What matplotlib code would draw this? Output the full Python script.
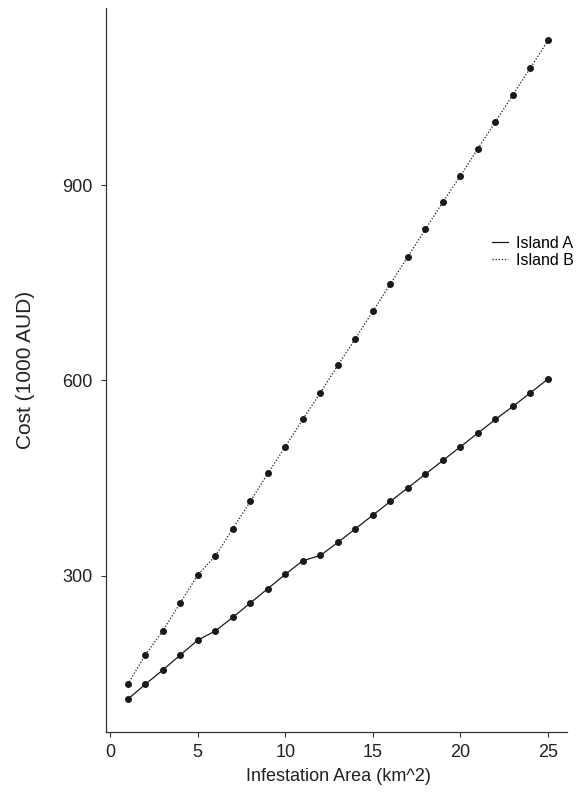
import matplotlib
matplotlib.use("Agg")
import matplotlib.pyplot as plt

plt.rcParams['font.family'] = ['Liberation Sans', 'DejaVu Sans']

# Infestation area (km^2)
area = list(range(1, 26))

# Cost (1000 AUD)
island_a = [110, 133, 155, 178, 201, 215, 236, 258, 280, 302,
            323, 331, 351, 372, 393, 414, 435, 456, 477, 498,
            519, 540, 560, 581, 602]
island_b = [133, 178, 215, 258, 301, 330, 372, 414, 457, 498,
            540, 581, 623, 664, 706, 748, 790, 832, 874, 914,
            956, 997, 1039, 1080, 1122]

x_ticks = [0, 5, 10, 15, 20, 25]
y_ticks = [300, 600, 900]

fig = plt.figure(figsize=(5.83, 7.93), dpi=100)
ax = fig.add_axes([0.182, 0.077, 0.791, 0.913])

ax.plot(area, island_a, color='#1a1a1a', linestyle='-', linewidth=0.9,
        marker='o', markersize=4, label='Island A')
ax.plot(area, island_b, color='#1a1a1a', linestyle=(0, (1, 1.5)), linewidth=0.9,
        marker='o', markersize=4, label='Island B')

ax.set_xlim(-0.23, 26.1)
ax.set_ylim(60, 1172)
ax.set_xticks(x_ticks)
ax.set_yticks(y_ticks)
ax.tick_params(labelsize=13, length=3.5, width=0.8, color='#333333', labelcolor='#222222')
ax.tick_params(axis='y', pad=6)
ax.tick_params(axis='x', pad=5)

for side in ['top', 'right']:
    ax.spines[side].set_visible(False)
for side in ['left', 'bottom']:
    ax.spines[side].set_color('#333333')
    ax.spines[side].set_linewidth(0.9)

ax.set_xlabel('Infestation Area (km^2)', fontsize=13, color='#222222')
ax.set_ylabel('Cost (1000 AUD)', fontsize=15, color='#222222')
ax.xaxis.set_label_coords(0.504, -0.050)
ax.yaxis.set_label_coords(-0.155, 0.5)

ax.legend(loc='upper left', bbox_to_anchor=(0.82, 0.696), frameon=False,
          fontsize=11.5, handlelength=1.0, handletextpad=0.5, labelspacing=0.12,
          borderpad=0, markerscale=0)

fig.savefig('out.png', dpi=100)
